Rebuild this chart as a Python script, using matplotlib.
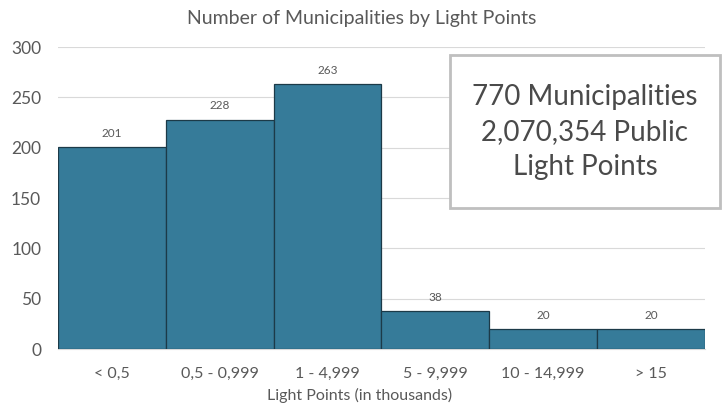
import matplotlib.pyplot as plt
from matplotlib.patches import Rectangle

# Data
categories = ['< 0,5', '0,5 - 0,999', '1 - 4,999', '5 - 9,999', '10 - 14,999', '> 15']
municipalities = [201, 228, 263, 38, 20, 20]

plt.rcParams['font.family'] = ['Lato', 'DejaVu Sans']
text_color = '#595959'

fig = plt.figure(figsize=(7.23, 4.08), dpi=100)
ax = fig.add_axes([0.080, 0.1446, 0.895, 0.740])

x = list(range(len(categories)))
bars = ax.bar(x, municipalities, width=1.0, color='#367B99', edgecolor='#1c3a48', linewidth=0.9, zorder=3)

for xi, v in zip(x, municipalities):
    ax.text(xi, v + 8, str(v), ha='center', va='bottom', fontsize=8.5, color=text_color)

ax.set_xlim(-0.5, len(categories) - 0.5)
ax.set_ylim(0, 300)
ax.set_yticks(range(0, 301, 50))
ax.set_xticks(x)
ax.set_xticklabels(categories)
ax.grid(axis='y', color='#d9d9d9', linewidth=0.8, zorder=0)
for s in ['top', 'right', 'left']:
    ax.spines[s].set_visible(False)
ax.spines['bottom'].set_color('#d9d9d9')
ax.tick_params(axis='x', length=0, labelsize=11.5, colors=text_color, pad=13)
ax.tick_params(axis='y', length=0, labelsize=12.5, colors=text_color, pad=12)

ax.set_xlabel('Light Points (in thousands)', fontsize=11.5, color=text_color)
ax.xaxis.set_label_coords(0.467, -0.128)
fig.text(0.5, 0.955, 'Number of Municipalities by Light Points', ha='center', va='center',
         fontsize=14, color=text_color)

# Summary box
fig.patches.append(Rectangle((0.622, 0.490), 0.374, 0.375, transform=fig.transFigure,
                             facecolor='white', edgecolor='#bfbfbf', linewidth=2, zorder=5))
fig.text(0.809, 0.677, '770 Municipalities\n2,070,354 Public\nLight Points', ha='center', va='center',
         fontsize=20, color='#4a4a4a', linespacing=1.42, zorder=6)

plt.savefig('out.png', dpi=100)
